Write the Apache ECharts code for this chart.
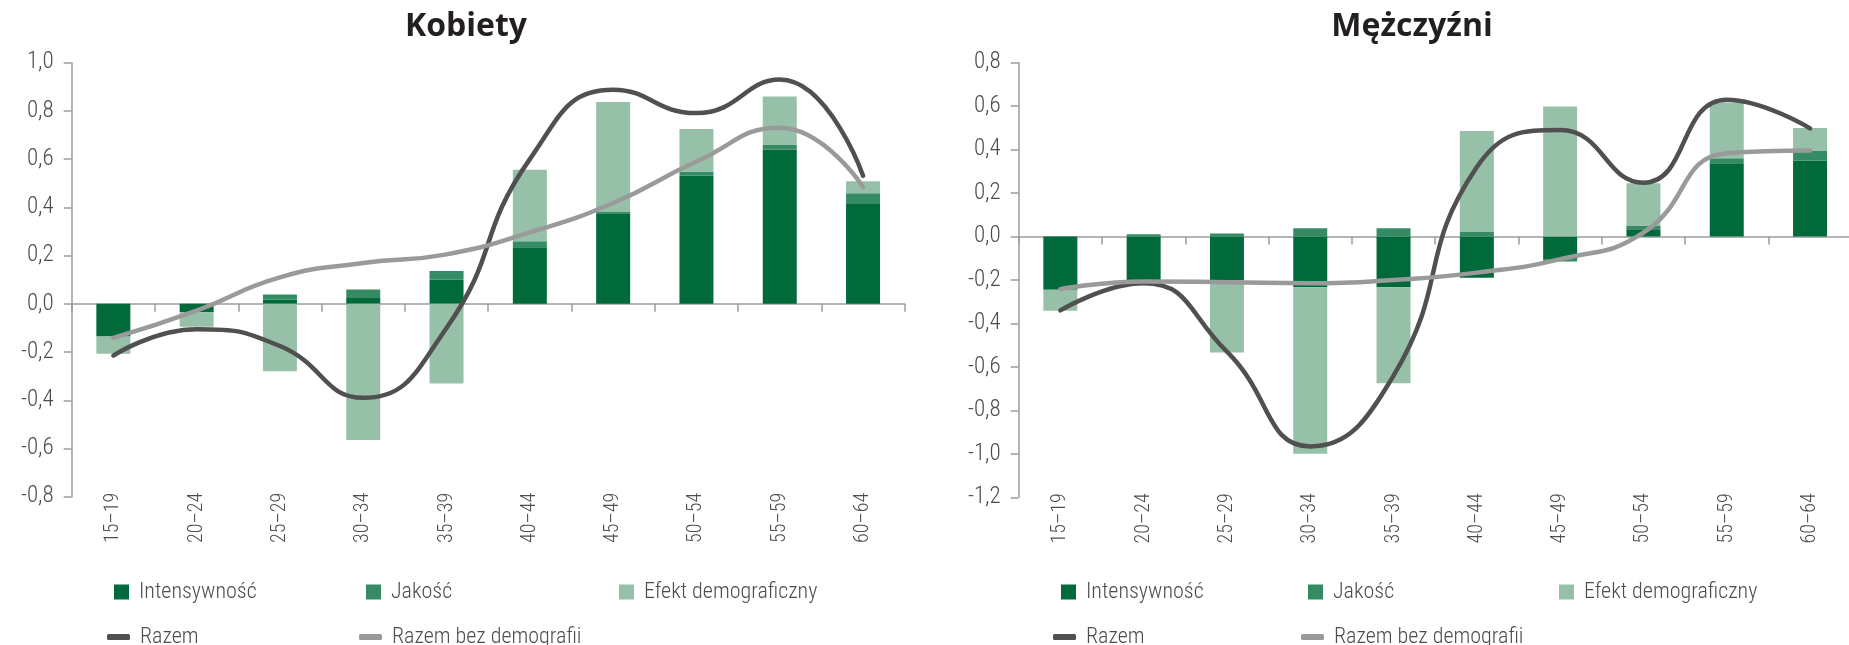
<!DOCTYPE html>
<html>
<head>
<meta charset="utf-8">
<script src="https://cdn.jsdelivr.net/npm/echarts@6/dist/echarts.min.js"></script>
<style>
  html, body { margin: 0; padding: 0; background: #fff; }
  #chart { width: 1849px; height: 645px; }
</style>
</head>
<body>
<div id="chart"></div>
<script>
// grupy wieku
const categories = ['15–19', '20–24', '25–29', '30–34', '35–39', '40–44', '45–49', '50–54', '55–59', '60–64']

// Kobiety
const kobIntens = [-0.136, -0.035, 0.017, 0.024, 0.100, 0.235, 0.376, 0.532, 0.639, 0.414]
const kobJakosc = [0, 0, 0.022, 0.035, 0.036, 0.024, 0.005, 0.017, 0.022, 0.045]
const kobEfekt = [-0.071, -0.060, -0.280, -0.565, -0.330, 0.297, 0.456, 0.176, 0.199, 0.049]
const kobRazem = [-0.215, -0.105, -0.175, -0.390, -0.100, 0.600, 0.888, 0.791, 0.930, 0.531]
const kobRazemBez = [-0.141, -0.028, 0.110, 0.169, 0.205, 0.296, 0.418, 0.590, 0.730, 0.484]

// Mężczyźni
const mezIntens = [-0.245, -0.200, -0.200, -0.233, -0.233, -0.190, -0.107, 0.034, 0.337, 0.350]
const mezJakosc = [0, 0.011, 0.014, 0.038, 0.038, 0.023, -0.008, 0.015, 0.023, 0.046]
const mezEfekt = [-0.097, 0, -0.334, -0.767, -0.442, 0.463, 0.598, 0.196, 0.257, 0.104]
const mezRazem = [-0.340, -0.215, -0.530, -0.966, -0.640, 0.320, 0.490, 0.248, 0.630, 0.498]
const mezRazemBez = [-0.242, -0.207, -0.210, -0.215, -0.200, -0.166, -0.104, 0.018, 0.383, 0.396]

// zakresy osi Y
const kobY = { min: -0.8, max: 1.0, step: 0.2 }
const mezY = { min: -1.2, max: 0.8, step: 0.2 }

const FONT = "'Liberation Sans Narrow', 'Roboto Condensed', Roboto, sans-serif"
const C_INT = '#006a3a'
const C_JAK = '#358c64'
const C_EF = '#96c1a8'
const C_RAZ = '#505050'
const C_BEZ = '#9a9a9b'
const AXIS = '#9d9d9d'
const TXT = '#4d4d4f'

const fmt = v => v.toFixed(1).replace('.', ',')

function yAxis (grid, r) {
  return {
    type: 'value', gridIndex: grid, min: r.min, max: r.max, interval: r.step,
    splitLine: { show: false },
    axisLine: { show: true, lineStyle: { color: AXIS, width: 1.5 } },
    axisTick: { show: true, length: 8, lineStyle: { color: AXIS, width: 1.5 } },
    axisLabel: { formatter: fmt, color: TXT, fontFamily: FONT, fontWeight: 300, fontSize: 23, margin: 18 }
  }
}

function xAxes (grid) {
  return [
    {
      // linia zera z podziałką
      type: 'category', gridIndex: grid, data: categories, position: 'bottom',
      axisLine: { onZero: true, lineStyle: { color: AXIS, width: 1.5 } },
      axisTick: { show: true, length: 8, lineStyle: { color: AXIS, width: 1.5 } },
      axisLabel: { show: false }
    },
    {
      // etykiety na dole
      type: 'category', gridIndex: grid, data: categories, position: 'bottom',
      axisLine: { show: false, onZero: false },
      axisTick: { show: false },
      axisLabel: { rotate: 90, margin: -4, color: TXT, fontFamily: FONT, fontWeight: 300, fontSize: 20 }
    }
  ]
}

function series (xi, yi, intens, jak, ef, raz, bez) {
  const bar = (name, data, color) => ({
    name, type: 'bar', stack: 's' + yi, xAxisIndex: xi, yAxisIndex: yi,
    barWidth: 34, data, itemStyle: { color }
  })
  const line = (name, data, color) => ({
    name, type: 'line', xAxisIndex: xi, yAxisIndex: yi, data,
    smooth: 0.5, symbol: 'none',
    itemStyle: { color },
    lineStyle: { color, width: 4.5, cap: 'round' }
  })
  return [
    bar('Intensywność', intens, C_INT),
    bar('Jakość', jak, C_JAK),
    bar('Efekt demograficzny', ef, C_EF),
    line('Razem', raz, C_RAZ),
    line('Razem bez demografii', bez, C_BEZ)
  ]
}

function legend (name, left, top, line) {
  return {
    data: [{ name, icon: line ? 'roundRect' : 'rect' }],
    left, top,
    itemWidth: line ? 23 : 15,
    itemHeight: line ? 6 : 15,
    selectedMode: false,
    textStyle: { color: TXT, fontFamily: FONT, fontWeight: 300, fontSize: 22, padding: [0, 0, 0, 5] }
  }
}

const titleStyle = { fontFamily: "'Open Sans', sans-serif", fontWeight: 'bold', fontSize: 32, color: '#231f20' }

const option = {
  animation: false,
  title: [
    { text: 'Kobiety', left: 461, top: 6, textAlign: 'center', textStyle: titleStyle },
    { text: 'Mężczyźni', left: 1407, top: 6, textAlign: 'center', textStyle: titleStyle }
  ],
  grid: [
    { left: 71.7, top: 62.7, width: 833, height: 434, outerBoundsMode: 'none' },
    { left: 1018.7, top: 62.7, width: 833, height: 434.6, outerBoundsMode: 'none' }
  ],
  xAxis: [...xAxes(0), ...xAxes(1)],
  yAxis: [yAxis(0, kobY), yAxis(1, mezY)],
  legend: [
    legend('Intensywność', 109, 576, false),
    legend('Jakość', 361, 576, false),
    legend('Efekt demograficzny', 614, 576, false),
    legend('Razem', 102, 621, true),
    legend('Razem bez demografii', 354, 621, true),
    legend('Intensywność', 1056, 576, false),
    legend('Jakość', 1303, 576, false),
    legend('Efekt demograficzny', 1554, 576, false),
    legend('Razem', 1048, 621, true),
    legend('Razem bez demografii', 1296, 621, true)
  ],
  series: [
    ...series(0, 0, kobIntens, kobJakosc, kobEfekt, kobRazem, kobRazemBez),
    ...series(2, 1, mezIntens, mezJakosc, mezEfekt, mezRazem, mezRazemBez)
  ]
}

const myChart = echarts.init(document.getElementById('chart'))
myChart.setOption(option)
</script>
</body>
</html>
